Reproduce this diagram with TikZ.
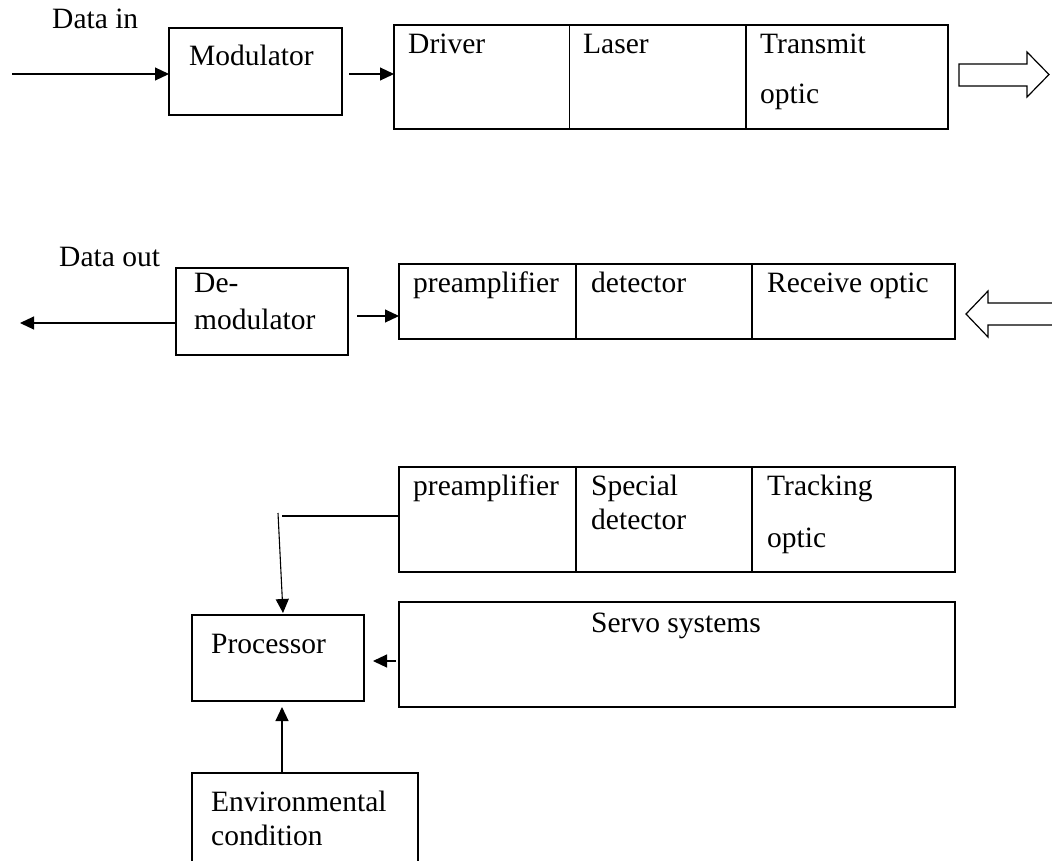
\documentclass[tikz,border=0pt]{standalone}
\usepackage{fontspec}
\setmainfont{Liberation Serif}
\usetikzlibrary{arrows.meta}
\begin{document}
\begin{tikzpicture}[x=1pt,y=-1pt,
  bigbox/.style={draw, line width=1.6pt, inner sep=0pt, outer sep=0pt},
  smallbox/.style={draw, line width=1.3pt, inner sep=0pt, outer sep=0pt},
  lbl/.style={anchor=base west, inner sep=0pt, font=\fontsize{29.5}{34}\selectfont},
  divider/.style={line width=1.3pt},
  arr/.style={line width=1.1pt, -{Triangle[length=14pt,width=13pt]}},
  plain/.style={line width=1.1pt},
  hollow/.style={draw, line width=1.2pt, fill=white, line join=miter}]
\useasboundingbox (0,0) rectangle (1052,860);

% ---------- transmit row ----------
\node[smallbox, minimum width=173pt, minimum height=87pt] (mod) at (255.5,71.5) {};
\node[bigbox, minimum width=554pt, minimum height=104pt] (tx) at (671,77) {};
\draw[line width=0.8pt] (tx.north -| 569,0) -- (tx.south -| 569,0);
\draw[divider] (tx.north -| 746,0) -- (tx.south -| 746,0);
\node[lbl] (datain) at (52,28) {Data in};
\node[lbl] (modt) at (189,65) {Modulator};
\node[lbl] (drv) at (408,53) {Driver};
\node[lbl] (las) at (583,53) {Laser};
\node[lbl] (trm1) at (760,53) {Transmit};
\node[lbl] (trm2) at (760,103) {optic};
\coordinate (inp) at (12,74);
\draw[arr] (inp) -- (mod.west |- inp);
\coordinate (m2) at (349,74);
\draw[arr] (m2) -- (tx.west |- m2);
\draw[hollow] (959,64) -- (1027,64) -- (1027,52) -- (1049,74.5) -- (1027,97) -- (1027,86) -- (959,86) -- cycle;

% ---------- receive row ----------
\node[smallbox, minimum width=172pt, minimum height=87pt] (demod) at (262,311.5) {};
\node[bigbox, minimum width=556pt, minimum height=75pt] (rx) at (677,301.5) {};
\draw[divider] (rx.north -| 576,0) -- (rx.south -| 576,0);
\draw[divider] (rx.north -| 752,0) -- (rx.south -| 752,0);
\node[lbl] (dataout) at (59,266) {Data out};
\node[lbl] (de1) at (194,292) {De-};
\node[lbl] (de2) at (194,329) {modulator};
\node[lbl] (pre1) at (413,292) {preamplifier};
\node[lbl] (det1) at (591,292) {detector};
\node[lbl] (rcv) at (767,292) {Receive optic};
\coordinate (outp) at (20,323);
\draw[arr] (demod.west |- outp) -- (outp);
\coordinate (d2) at (357,316);
\draw[arr] (d2) -- (rx.west |- d2);
\draw[hollow] (1053,303) -- (988,303) -- (988,291) -- (966,314) -- (988,337) -- (988,325) -- (1053,325);

% ---------- tracking part ----------
\node[bigbox, minimum width=556pt, minimum height=105pt] (trk) at (677,519.5) {};
\draw[divider] (trk.north -| 576,0) -- (trk.south -| 576,0);
\draw[divider] (trk.north -| 752,0) -- (trk.south -| 752,0);
\node[lbl] (pre2) at (413,495) {preamplifier};
\node[lbl] (sp1) at (591,495) {Special};
\node[lbl] (sp2) at (591,529) {detector};
\node[lbl] (trk1) at (767,495) {Tracking};
\node[lbl] (trk2) at (767,547) {optic};

\node[bigbox, minimum width=556pt, minimum height=105pt] (servo) at (677,654.5) {};
\node[lbl] (servot) at (591,632) {Servo systems};

\node[smallbox, minimum width=172pt, minimum height=86pt] (proc) at (278,658) {};
\node[lbl] (proct) at (211,653) {Processor};

\begin{scope}
\clip (0,0) rectangle (1052,860);
\node[smallbox, line width=1.4pt, minimum width=226pt, minimum height=130pt] (env) at (305,838) {};
\end{scope}
\node[lbl] (env1) at (211,811) {Environmental};
\node[lbl] (env2) at (211,845) {condition};

\coordinate (c1) at (282,516);
\draw[plain] (trk.west |- c1) -- (c1);
\coordinate (c2) at (278,513);
\coordinate (c3) at (283,613);
\draw[arr] (c2) -- (c3);
\coordinate (s1) at (396,661);
\coordinate (s2) at (373,661);
\draw[arr] (s1) -- (s2);
\coordinate (e1) at (282,707);
\draw[arr] (env.north -| e1) -- (e1);
\end{tikzpicture}
\end{document}
